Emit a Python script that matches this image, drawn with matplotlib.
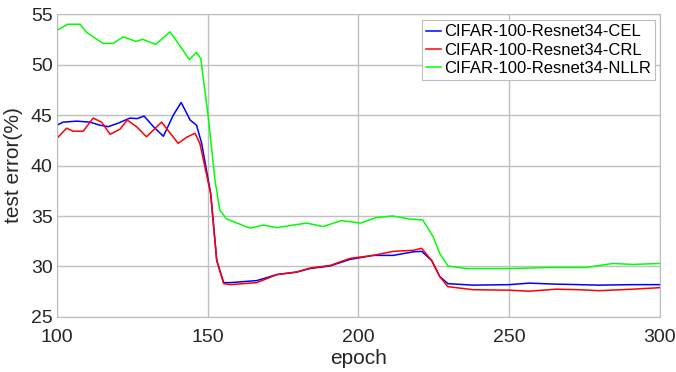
import matplotlib.pyplot as plt

# ---- data ----
ep_cel = [100, 102, 106.5, 110.9, 114.2, 117, 120.3, 124.2, 126.6, 128.9, 132, 135.3,
          138.6, 141.2, 144.2, 146.3, 148, 151, 153, 155.3, 157.5, 166.3, 173, 179.6,
          184, 190.6, 197.2, 205, 211.6, 218.2, 221, 224.3, 227, 229.7, 238, 250.1,
          256.7, 265.5, 273.2, 279.9, 291, 300]
cel = [44.0, 44.3, 44.4, 44.3, 44.0, 43.85, 44.2, 44.7, 44.65, 44.9, 43.85, 42.9,
       45.0, 46.25, 44.5, 44.0, 42.2, 37.2, 30.6, 28.4, 28.4, 28.6, 29.2, 29.45,
       29.8, 30.05, 30.7, 31.1, 31.1, 31.45, 31.5, 30.6, 29.0, 28.3, 28.15, 28.2,
       28.35, 28.25, 28.2, 28.15, 28.2, 28.2]

ep_crl = [100, 103.2, 105.4, 108.7, 112, 114.8, 117.6, 120.9, 123.3, 126.4, 129.7,
          134.7, 140.2, 143, 145.8, 147.4, 151, 153, 155.3, 157.5, 166.3, 173, 179.6,
          184, 190.6, 197.2, 205, 211.6, 218.2, 221, 224.3, 227, 229.7, 238, 250.1,
          256.7, 265.5, 273.2, 279.9, 291, 300]
crl = [42.7, 43.7, 43.4, 43.4, 44.7, 44.3, 43.1, 43.6, 44.5, 43.85, 42.85,
       44.3, 42.2, 42.8, 43.2, 42.2, 37.2, 30.6, 28.3, 28.2, 28.4, 29.2, 29.45,
       29.85, 30.1, 30.8, 31.1, 31.5, 31.6, 31.8, 30.6, 29.0, 28.0, 27.7, 27.65,
       27.55, 27.75, 27.7, 27.6, 27.75, 27.9]

ep_nllr = [100, 103.6, 107.6, 109.8, 115.3, 118.6, 122, 126.2, 128.4, 132.8, 137.5,
           141.4, 143.9, 146.3, 147.7, 150.2, 152.4, 154, 156.3, 164, 168.4, 173,
           178.4, 182.9, 188.3, 194.4, 200.7, 206, 211.4, 217, 221.4, 224.7, 227,
           229.7, 235.8, 250.1, 263.4, 275.6, 284.5, 291, 300]
nllr = [53.4, 54.0, 54.0, 53.2, 52.1, 52.1, 52.75, 52.3, 52.5, 52.0, 53.25,
        51.6, 50.5, 51.2, 50.6, 44.8, 38.6, 35.6, 34.7, 33.8, 34.1, 33.85,
        34.1, 34.3, 33.95, 34.55, 34.3, 34.85, 35.0, 34.7, 34.6, 33.0, 31.3,
        30.05, 29.8, 29.8, 29.9, 29.9, 30.3, 30.2, 30.3]

labels = ["CIFAR-100-Resnet34-CEL", "CIFAR-100-Resnet34-CRL", "CIFAR-100-Resnet34-NLLR"]
colors = ["#0000ff", "#ff0000", "#00ff00"]

plt.rcParams['font.family'] = ['Liberation Sans', 'DejaVu Sans']

fig = plt.figure(figsize=(6.76, 3.72), dpi=100)
ax = fig.add_axes([0.0843, 0.148, 0.8917, 0.814])

for x, y, c, lab in zip([ep_cel, ep_crl, ep_nllr], [cel, crl, nllr], colors, labels):
    ax.plot(x, y, color=c, lw=1.1, label=lab)

ax.set_xlim(100, 300)
ax.set_ylim(25, 55)
ax.set_xticks([100, 150, 200, 250, 300])
ax.set_yticks([25, 30, 35, 40, 45, 50, 55])
ax.grid(True, color="#c0c0c0", lw=1)
ax.set_axisbelow(True)
for s in ax.spines.values():
    s.set_color("#bdbdbd")
ax.tick_params(length=0, labelsize=14, colors="#262626")
ax.tick_params(axis="x", pad=9)
ax.tick_params(axis="y", pad=3)
ax.set_xlabel("epoch", fontsize=15, color="#262626", labelpad=2)
ax.set_ylabel("test error(%)", fontsize=15, color="#262626", labelpad=6)

leg = ax.legend(loc="upper right", fontsize=12, handlelength=0.9, handletextpad=0.15,
                borderpad=0.25, labelspacing=0.2, fancybox=False, framealpha=1,
                borderaxespad=0, bbox_to_anchor=(0.992, 0.98))
leg.get_frame().set_edgecolor("#bdbdbd")
leg.get_frame().set_linewidth(0.8)

fig.savefig("out.png", dpi=100)
